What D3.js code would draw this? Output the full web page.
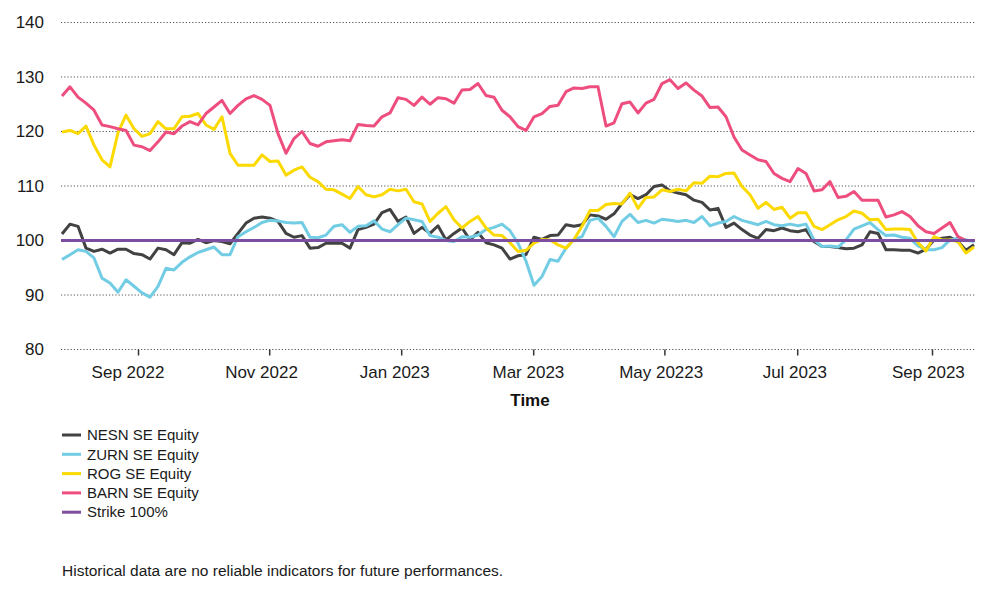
<!DOCTYPE html>
<html>
<head>
<meta charset="utf-8">
<script src="https://cdn.jsdelivr.net/npm/d3@7"></script>
<style>
  html, body { margin: 0; padding: 0; background: #fff; }
  svg { display: block; font-family: "Liberation Sans", Arial, sans-serif; }
</style>
</head>
<body>
<svg id="chart" width="1000" height="610"></svg>
<script>
// ---- data (sample index along the time axis) ----
const nesn = [101.2,103.0,102.6,98.6,98.0,98.4,97.7,98.4,98.4,97.6,97.4,96.6,98.6,98.3,97.4,99.6,99.5,100.2,99.6,100.0,99.8,99.4,101.3,103.2,104.1,104.3,104.1,103.5,101.3,
  100.6,100.9,98.6,98.7,99.5,99.5,99.5,98.6,102.0,102.4,103.0,105.1,105.7,103.5,104.3,101.3,102.4,101.3,102.7,100.1,101.3,102.3,100.1,101.5,99.6,99.2,98.6,96.6,97.2,
  97.4,100.6,100.2,100.9,101.0,102.9,102.6,102.9,104.7,104.5,103.9,104.9,106.8,108.4,107.7,108.4,109.9,110.2,109.1,108.7,108.4,107.4,107.0,105.6,105.9,102.4,103.2,102.0,101.0,
  100.4,102.0,101.8,102.3,101.8,101.6,102.0,99.8,98.9,98.9,98.7,98.5,98.6,99.2,101.6,101.3,98.3,98.3,98.2,98.2,97.7,98.4,100.1,100.4,100.6,99.8,98.2,99.2];
const zurn = [96.5,97.4,98.3,98.0,96.8,93.1,92.2,90.5,92.8,91.6,90.4,89.6,91.6,94.9,94.6,96.0,97.0,97.8,98.3,98.8,97.4,97.4,100.7,101.6,102.4,103.3,103.7,103.6,103.3,
  103.2,103.3,100.6,100.5,101.0,102.6,102.9,101.5,102.6,102.7,103.6,102.1,101.6,102.9,104.1,103.8,103.5,100.9,100.6,100.0,99.8,100.7,100.6,101.0,102.0,102.4,103.0,101.8,99.5,
  96.2,91.8,93.4,96.5,96.2,98.6,100.2,100.7,103.7,104.1,102.6,100.7,103.5,104.8,103.3,103.7,103.2,103.9,103.7,103.5,103.7,103.3,104.4,102.7,103.2,103.5,104.4,103.7,103.3,
  102.9,103.5,102.9,102.7,103.0,102.7,103.0,100.1,98.9,99.0,98.8,100.1,102.1,102.7,103.3,102.0,100.9,101.0,100.6,100.4,99.0,98.3,98.3,98.7,100.1,100.4,100.1,99.8];
const rog = [119.9,120.2,119.6,121.0,117.5,114.8,113.5,119.8,123.0,120.5,119.1,119.6,121.8,120.5,120.5,122.7,122.8,123.3,121.2,120.4,122.7,116.0,113.8,113.8,113.8,115.7,114.5,114.6,112.0,
  112.9,113.5,111.6,110.8,109.4,109.3,108.5,107.7,109.9,108.4,108.0,108.4,109.4,109.1,109.4,107.1,106.7,103.5,105.0,106.2,103.8,102.3,103.5,104.4,102.3,101.0,100.9,99.6,98.0,
  98.2,99.5,100.2,100.1,99.2,98.6,100.2,102.6,105.5,105.5,106.6,106.8,106.7,108.7,105.9,107.9,108.0,109.3,109.0,109.4,109.1,110.6,110.5,111.8,111.7,112.3,112.4,109.9,108.4,
  105.9,107.0,105.7,106.1,104.1,105.1,105.1,102.6,102.0,102.9,103.8,104.4,105.4,105.0,103.8,103.9,102.0,102.1,102.1,102.0,99.6,98.1,100.7,100.1,100.1,99.8,97.7,98.8];
const barn = [126.5,128.2,126.3,125.2,123.9,121.2,120.9,120.5,120.2,117.5,117.2,116.5,118.1,119.9,119.6,121.0,121.8,121.2,123.3,124.5,125.7,123.3,124.8,126.0,126.6,125.9,124.8,119.6,116.0,
  118.7,120.0,117.8,117.3,118.1,118.3,118.5,118.3,121.3,121.1,121.0,122.7,123.4,126.2,125.9,124.8,126.3,125.0,126.2,126.0,125.2,127.6,127.7,128.8,126.6,126.3,123.9,122.7,120.9,
  120.2,122.7,123.3,124.6,124.8,127.3,128.0,127.9,128.2,128.2,121.0,121.6,125.1,125.4,123.4,125.2,125.9,128.8,129.5,127.9,128.9,127.6,126.5,124.4,124.5,122.7,119.0,116.6,115.7,
  114.8,114.5,112.3,111.4,110.8,113.2,112.3,109.1,109.3,110.8,107.9,108.1,109.0,107.4,107.4,107.4,104.3,104.7,105.3,104.4,102.7,101.6,101.3,102.3,103.3,100.7,100.0,100.0];
const strikeLevel = 100;

const seriesNames = ["NESN SE Equity", "ZURN SE Equity", "ROG SE Equity", "BARN SE Equity"];
const seriesColors = ["#424242", "#72cde4", "#fcd900", "#ee4e7e"];
const strikeName = "Strike 100%";
const strikeColor = "#7d4e9f";

const yTicks = [80, 90, 100, 110, 120, 130, 140];
const xTickLabels = ["Sep 2022", "Nov 2022", "Jan 2023", "Mar 2023", "May 20223", "Jul 2023", "Sep 2023"];
const xTickIndex = [9.5, 25.9, 42.4, 58.9, 75.3, 91.9, 108.75];
const xLabelIndex = [8.25, 24.94, 41.6, 58.3, 74.9, 91.6, 108.3];
const xTitle = "Time";
const footnote = "Historical data are no reliable indicators for future performances.";

// ---- drawing ----
const svg = d3.select("#chart");
const allSeries = [nesn, zurn, rog, barn];
const N = nesn.length;

const x = d3.scaleLinear().domain([0, N - 1]).range([62, 974]);
const y = d3.scaleLinear().domain([80, 140]).range([349.5, 22.5]);
const gridX0 = 61, gridX1 = 975;

// gridlines
svg.append("g").selectAll("line").data(yTicks).join("line")
  .attr("x1", gridX0).attr("x2", gridX1)
  .attr("y1", d => y(d)).attr("y2", d => y(d))
  .attr("stroke", "#555").attr("stroke-width", 1)
  .attr("stroke-dasharray", "1.2,2");

// y labels
svg.append("g").selectAll("text").data(yTicks).join("text")
  .attr("x", 44).attr("y", d => y(d))
  .attr("dy", "0.35em")
  .attr("text-anchor", "end")
  .attr("font-size", 17).attr("fill", "#1a1a1a")
  .text(d => d);

// x axis tick marks
const xAxis = d3.axisBottom(x)
  .tickValues(xTickIndex)
  .tickFormat("")
  .tickSize(6);
const gx = svg.append("g").attr("transform", `translate(0,${y(80)})`).call(xAxis);
gx.select(".domain").remove();
gx.selectAll(".tick line").attr("stroke", "#333").attr("stroke-width", 1.5);

// x tick labels
svg.append("g").selectAll("text").data(xTickLabels).join("text")
  .attr("x", (d, i) => x(xLabelIndex[i]))
  .attr("y", 378)
  .attr("text-anchor", "middle")
  .attr("font-size", 17).attr("fill", "#1a1a1a")
  .text(d => d);

// x title
svg.append("text").attr("x", 530).attr("y", 406)
  .attr("text-anchor", "middle").attr("font-size", 17).attr("font-weight", "bold")
  .attr("fill", "#111").text(xTitle);

// lines
const line = d3.line().x((d, i) => x(i)).y(d => y(d));
svg.append("g").selectAll("path").data(allSeries).join("path")
  .attr("d", d => line(d))
  .attr("fill", "none")
  .attr("stroke", (d, i) => seriesColors[i])
  .attr("stroke-width", 3)
  .attr("stroke-linejoin", "round");

// strike line
svg.append("line")
  .attr("x1", gridX0).attr("x2", gridX1)
  .attr("y1", y(strikeLevel)).attr("y2", y(strikeLevel))
  .attr("stroke", strikeColor).attr("stroke-width", 3);

// legend
const legendItems = seriesNames.map((n, i) => ({ name: n, color: seriesColors[i] }))
  .concat([{ name: strikeName, color: strikeColor }]);
const lg = svg.append("g").selectAll("g").data(legendItems).join("g")
  .attr("transform", (d, i) => `translate(62,${435 + i * 19.3})`);
lg.append("line").attr("x1", 0).attr("x2", 19).attr("y1", 0).attr("y2", 0)
  .attr("stroke", d => d.color).attr("stroke-width", 3);
lg.append("text").attr("x", 25).attr("y", 0).attr("dy", "0.35em")
  .attr("font-size", 15).attr("fill", "#1a1a1a").text(d => d.name);

// footnote
svg.append("text").attr("x", 62).attr("y", 576)
  .attr("font-size", 15.5).attr("fill", "#1a1a1a").text(footnote);
</script>
</body>
</html>
